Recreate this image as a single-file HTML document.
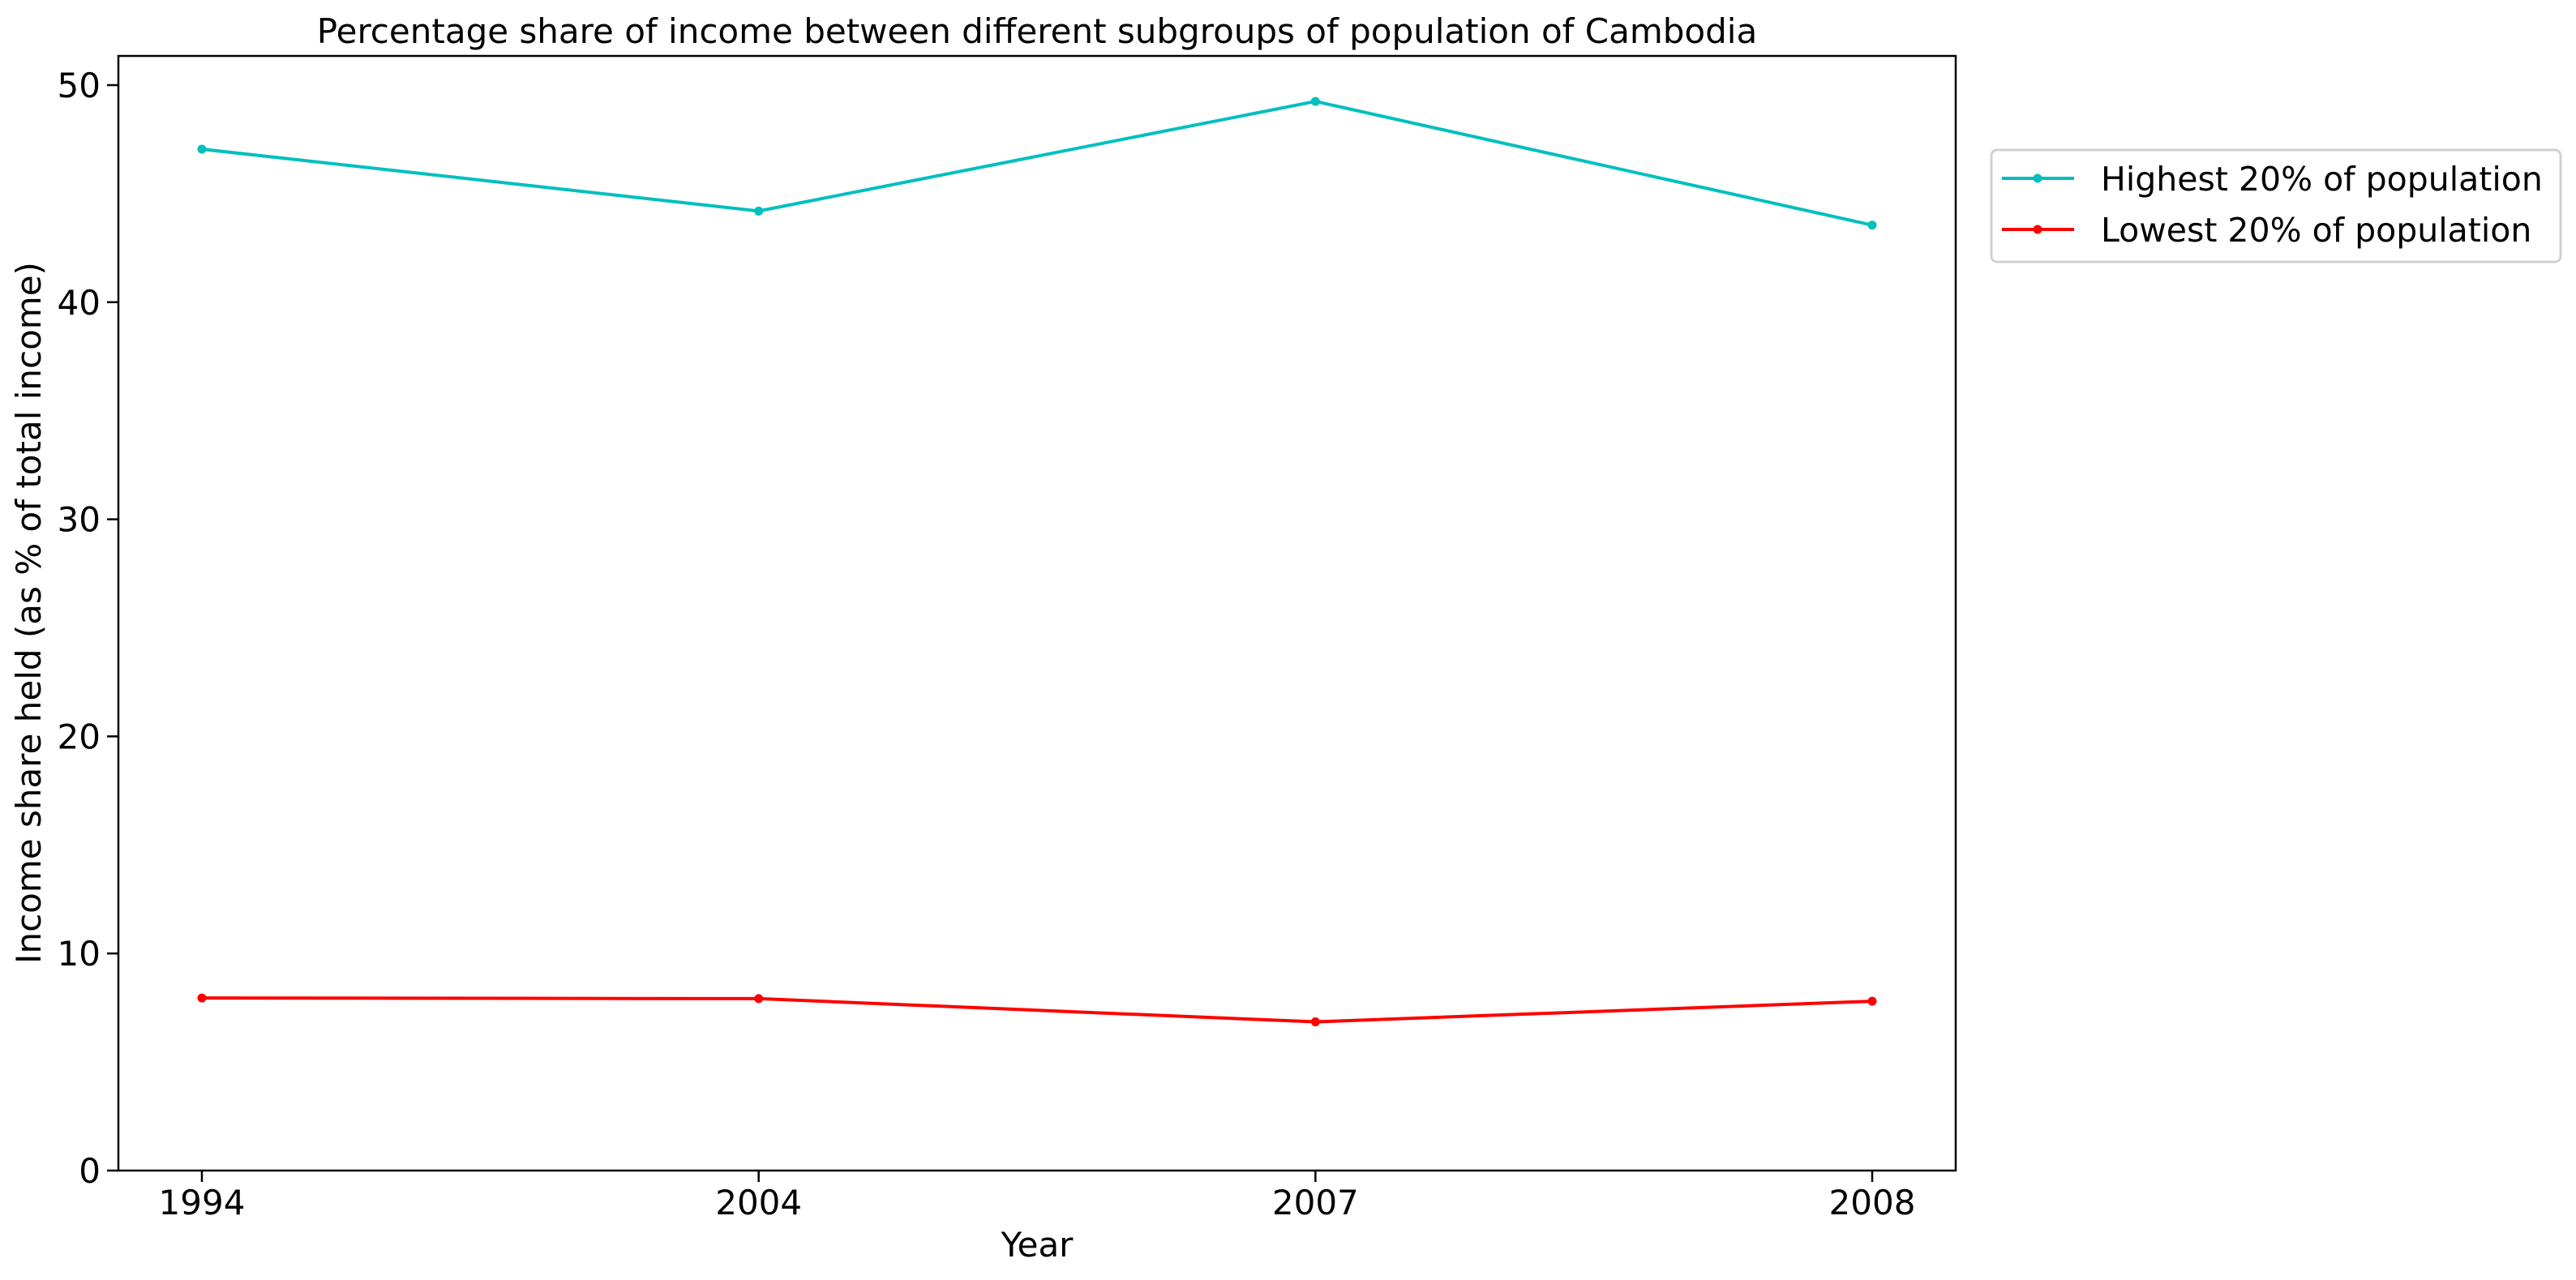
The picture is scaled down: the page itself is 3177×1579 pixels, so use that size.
<!DOCTYPE html>
<html><head><meta charset="utf-8"><style>
html,body{margin:0;padding:0;background:#fff;}
svg{display:block;font-family:"DejaVu Sans","Liberation Sans",sans-serif;}
</style></head><body>
<svg id="chart" width="3177" height="1579" viewBox="0 0 3177 1579" xmlns="http://www.w3.org/2000/svg">
<rect width="3177" height="1579" fill="#fff"/>
<text x="1279" y="53" font-size="42" text-anchor="middle">Percentage share of income between different subgroups of population of Cambodia</text>
<text transform="translate(50,756) rotate(-90)" font-size="42" text-anchor="middle">Income share held (as % of total income)</text>
<text x="1279" y="1550" font-size="42" text-anchor="middle">Year</text>
<g id="ticks"></g>
<g id="series"></g>
<rect x="146" y="69" width="2266" height="1375" fill="none" stroke="#000" stroke-width="2.5"/>
<g>
<rect x="2456" y="185" width="702" height="138" rx="7" fill="#fff" stroke="#d0d0d0" stroke-width="3"/>
<g>
<line x1="2469" y1="220" x2="2558" y2="220" stroke="#00bfbf" stroke-width="4"/>
<circle cx="2513" cy="220" r="5.5" fill="#00bfbf"/>
<text x="2591" y="235" font-size="41">Highest 20% of population</text>
</g>
<g>
<line x1="2469" y1="283" x2="2558" y2="283" stroke="#ff0000" stroke-width="4"/>
<circle cx="2513" cy="283" r="5.5" fill="#ff0000"/>
<text x="2591" y="298" font-size="41">Lowest 20% of population</text>
</g>
</g>
</svg>
<script>
const categories = ["1994", "2004", "2007", "2008"];
const highestValues = [47.05, 44.2, 49.25, 43.55];
const lowestValues = [7.95, 7.92, 6.85, 7.8];
const yTickValues = [0, 10, 20, 30, 40, 50];

const NS = "http://www.w3.org/2000/svg";
const plotL = 146, plotR = 2412, plotT = 69, plotB = 1444;
const yMax = (plotB - plotT) / 26.78;
const step = (plotR - plotL) / (categories.length - 1 + 0.3);
function xPos(i){ return plotL + step * 0.15 + i * step; }
function yPos(v){ return plotB - (v / yMax) * (plotB - plotT); }

const ticks = document.getElementById('ticks');
yTickValues.forEach(v => {
  const y = yPos(v);
  const l = document.createElementNS(NS, 'line');
  l.setAttribute('x1', plotL - 14); l.setAttribute('x2', plotL);
  l.setAttribute('y1', y); l.setAttribute('y2', y);
  l.setAttribute('stroke', '#000'); l.setAttribute('stroke-width', '2.5');
  
  
  ticks.appendChild(l);
  const t = document.createElementNS(NS, 'text');
  t.setAttribute('x', plotL - 22); t.setAttribute('y', y + 15);
  t.setAttribute('font-size', '42'); t.setAttribute('text-anchor', 'end');
  t.textContent = v;
  
  
  ticks.appendChild(t);
});
categories.forEach((c, i) => {
  const x = xPos(i);
  const l = document.createElementNS(NS, 'line');
  l.setAttribute('x1', x); l.setAttribute('x2', x);
  l.setAttribute('y1', plotB); l.setAttribute('y2', plotB + 14);
  l.setAttribute('stroke', '#000'); l.setAttribute('stroke-width', '2.5');
  
  
  ticks.appendChild(l);
  const t = document.createElementNS(NS, 'text');
  t.setAttribute('x', x); t.setAttribute('y', plotB + 54);
  t.setAttribute('font-size', '42'); t.setAttribute('text-anchor', 'middle');
  t.textContent = c;
  
  
  ticks.appendChild(t);
});

const series = document.getElementById('series');
function drawSeries(vals, color, name){
  const p = document.createElementNS(NS, 'polyline');
  p.setAttribute('points', vals.map((v, i) => xPos(i) + ',' + yPos(v)).join(' '));
  p.setAttribute('fill', 'none'); p.setAttribute('stroke', color);
  p.setAttribute('stroke-width', '4'); p.setAttribute('stroke-linejoin', 'round');
  
  
  series.appendChild(p);
  vals.forEach((v, i) => {
    const c = document.createElementNS(NS, 'circle');
    c.setAttribute('cx', xPos(i)); c.setAttribute('cy', yPos(v));
    c.setAttribute('r', '5.5'); c.setAttribute('fill', color);
    
    
    series.appendChild(c);
  });
}
drawSeries(highestValues, '#00bfbf', 'highest-20');
drawSeries(lowestValues, '#ff0000', 'lowest-20');
</script>
</body></html>
